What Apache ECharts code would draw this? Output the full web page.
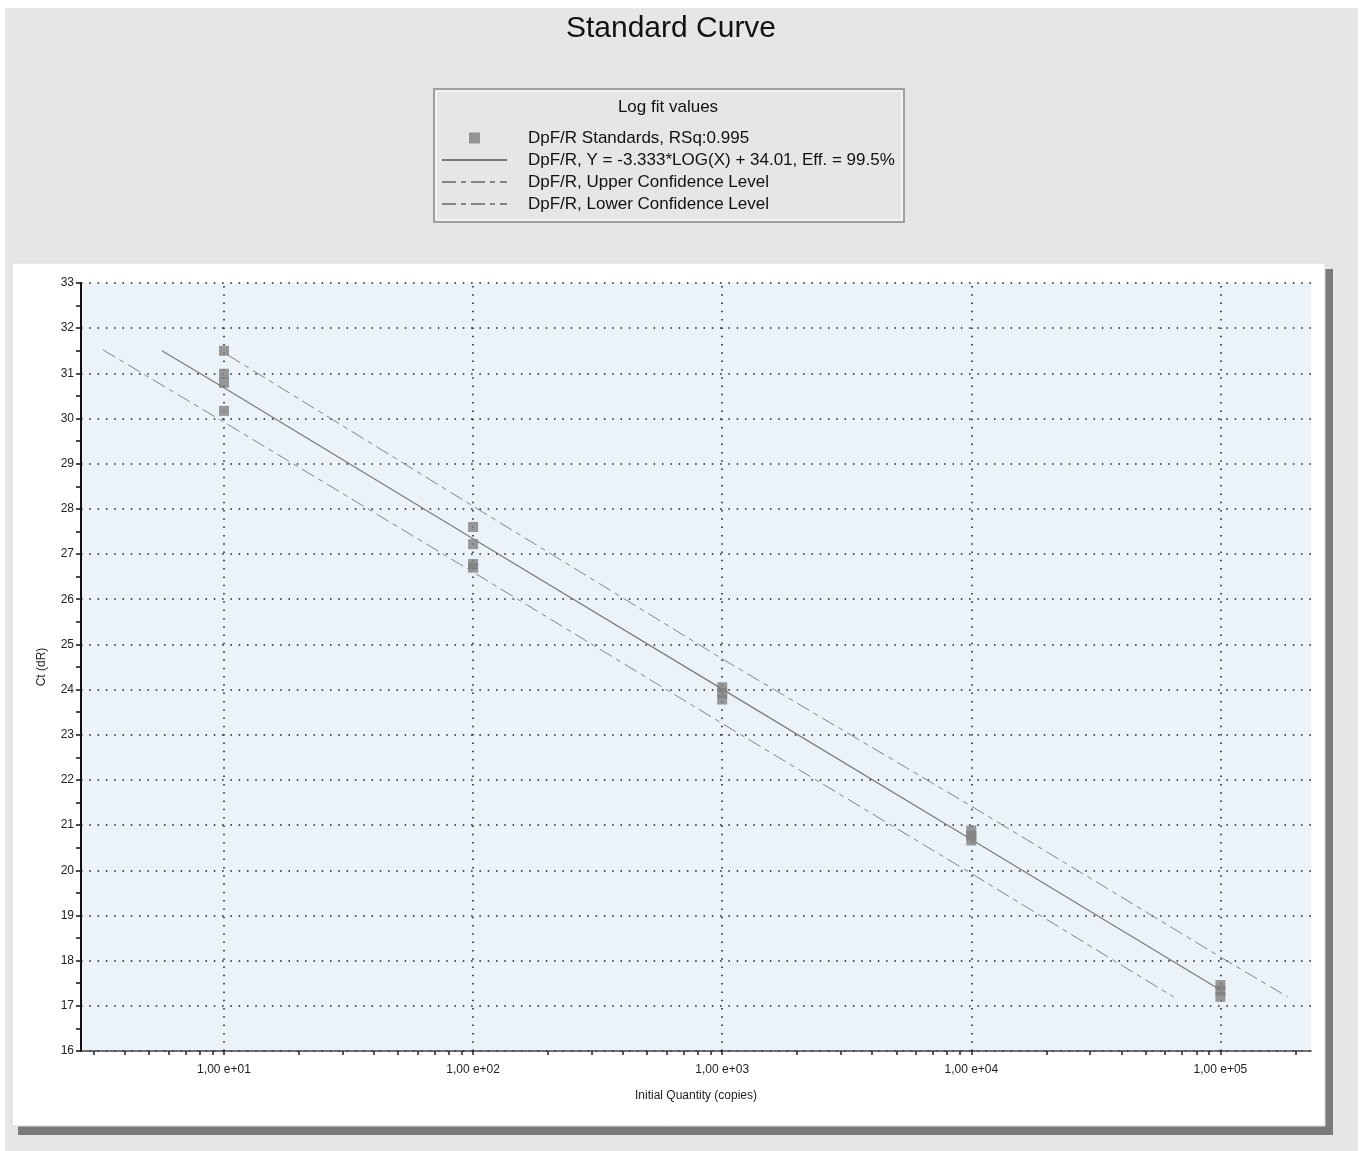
<!DOCTYPE html>
<html><head><meta charset="utf-8">
<script src="https://cdn.jsdelivr.net/npm/echarts@6/dist/echarts.min.js"></script>
<style>html,body{margin:0;padding:0;background:#fff}#c{width:1364px;height:1151px}</style>
</head><body><div id="c"></div>
<script>
// ---- data ----
const standardsX  = [10, 10, 10, 10, 100, 100, 100, 100, 1000, 1000, 1000, 10000, 10000, 10000, 100000, 100000, 100000];
const standardsCt = [31.50, 30.99, 30.79, 30.17, 27.60, 27.22, 26.78, 26.70, 24.05, 23.92, 23.78, 20.88, 20.77, 20.66, 17.46, 17.33, 17.20];
const fitX  = [5.64, 10, 100, 1000, 10000, 100000];
const fitCt = [31.50, 30.68, 27.34, 24.01, 20.68, 17.35];
const upperX  = [10.4, 100, 1000, 10000, 100000, 186000];
const upperCt = [31.40, 28.06, 24.68, 21.42, 18.08, 17.20];
const lowerX  = [3.27, 10, 100, 1000, 10000, 64700];
const lowerCt = [31.52, 29.92, 26.60, 23.25, 19.93, 17.20];
const majorTicks = [10, 100, 1000, 10000, 100000];
const minorTicks = [3, 4, 5, 6, 7, 8, 9, 10, 20, 30, 40, 50, 60, 70, 80, 90, 100,
  200, 300, 400, 500, 600, 700, 800, 900, 1000, 2000, 3000, 4000, 5000, 6000, 7000, 8000, 9000, 10000,
  20000, 30000, 40000, 50000, 60000, 70000, 80000, 90000, 100000, 200000];
const names = ['DpF/R Standards, RSq:0.995',
  'DpF/R, Y = -3.333*LOG(X) + 34.01, Eff. = 99.5%',
  'DpF/R, Upper Confidence Level',
  'DpF/R, Lower Confidence Level'];

const zip = (a, b) => a.map((v, i) => [v, b[i]]);
const FONT = '"Liberation Sans", Arial, sans-serif';
const dotted = {color: '#1a1a1a', width: 1.5, type: [1.5, 6.8]};
const dashDot = [14, 5, 5, 5];
const noSym = {color: 'rgba(0,0,0,0)', opacity: 0, borderWidth: 0};

const chart = echarts.init(document.getElementById('c'), null, {renderer: 'canvas'});
chart.setOption({
  animation: false,
  textStyle: {fontFamily: FONT},
  graphic: [
    {type: 'rect', z: -10, shape: {x: 5, y: 8, width: 1353, height: 1143}, style: {fill: '#e6e6e6'}},
    {type: 'rect', z: -9, shape: {x: 18, y: 1126, width: 1315, height: 9}, style: {fill: '#7a7a7a'}},
    {type: 'rect', z: -9, shape: {x: 1325, y: 269, width: 8, height: 866}, style: {fill: '#7a7a7a'}},
    {type: 'rect', z: -8, shape: {x: 12, y: 263, width: 1313, height: 863}, style: {fill: '#ffffff', stroke: '#d8d8d8', lineWidth: 1}},
    {type: 'rect', z: -8, shape: {x: 434, y: 89, width: 470, height: 133}, style: {fill: '#e6e6e6', stroke: '#a0a0a0', lineWidth: 2}},
    {type: 'rect', z: -7, shape: {x: 436, y: 91, width: 466, height: 129}, style: {fill: 'none', stroke: '#ffffff', lineWidth: 1}},
    {type: 'text', z: 5, style: {x: 668, y: 107, text: 'Log fit values', font: '17px ' + FONT, fill: '#111', textAlign: 'center', textVerticalAlign: 'middle'}},
    {type: 'text', z: 5, style: {x: 671, y: 29, text: 'Standard Curve', font: '30px ' + FONT, fill: '#111', textAlign: 'center', textVerticalAlign: 'middle'}}
  ],
  legend: {
    orient: 'vertical', left: 441, top: 129, padding: 0,
    itemWidth: 65, itemHeight: 11, itemGap: 4,
    data: [
      {name: names[0], icon: 'path://M0,0L10,0L10,10L0,10Z'},
      {name: names[1], itemStyle: noSym},
      {name: names[2], itemStyle: noSym},
      {name: names[3], itemStyle: noSym}
    ],
    textStyle: {fontSize: 17, color: '#111', lineHeight: 18, padding: [0, 0, 0, 16], fontFamily: FONT},
    selectedMode: false
  },
  grid: {
    left: 81, right: 53, top: 283, bottom: 100,
    show: true, backgroundColor: '#ebf2f8', borderWidth: 0
  },
  xAxis: {
    type: 'log', logBase: 10, min: 2.667, max: 231000,
    name: 'Initial Quantity (copies)', nameLocation: 'middle', nameGap: 39,
    nameTextStyle: {fontSize: 12, color: '#222', fontFamily: FONT},
    axisLine: {show: true, lineStyle: {color: '#444', width: 1.5}},
    axisTick: {show: true, customValues: minorTicks, length: 4, inside: false, lineStyle: {color: '#222', width: 1.5}},
    axisLabel: {
      customValues: majorTicks, margin: 13, fontSize: 12, color: '#222', fontFamily: FONT,
      formatter: v => '1,00 e+0' + Math.round(Math.log10(v))
    },
    splitLine: {show: false},
    minorTick: {show: false}, minorSplitLine: {show: false}
  },
  yAxis: {
    type: 'value', min: 16, max: 33, interval: 1,
    name: 'Ct (dR)', nameLocation: 'middle', nameGap: 33,
    nameTextStyle: {fontSize: 12, color: '#222', fontFamily: FONT},
    axisLine: {show: true, lineStyle: {color: '#111', width: 2}},
    axisTick: {show: true, length: 5, lineStyle: {color: '#111', width: 1.5}},
    minorTick: {show: true, splitNumber: 2, length: 5, lineStyle: {color: '#111', width: 1.5}},
    axisLabel: {margin: 7, fontSize: 12, color: '#222', fontFamily: FONT},
    splitLine: {show: true, lineStyle: dotted}
  },
  series: [
    {
      name: names[0], type: 'scatter', data: zip(standardsX, standardsCt),
      symbol: 'rect', symbolSize: 10, itemStyle: {color: '#808080'}, z: 5
    },
    {
      name: names[1], type: 'line', data: zip(fitX, fitCt), showSymbol: false, symbol: 'none',
      lineStyle: {color: '#7a7a7a', width: 1.2}, itemStyle: {color: '#7a7a7a'},
      markLine: {
        silent: true, symbol: 'none', label: {show: false},
        lineStyle: dotted,
        data: majorTicks.map(v => ({xAxis: v}))
      }
    },
    {
      name: names[2], type: 'line', data: zip(upperX, upperCt), showSymbol: false, symbol: 'none',
      lineStyle: {color: '#858585', width: 1, type: dashDot}, itemStyle: {color: '#858585'}
    },
    {
      name: names[3], type: 'line', data: zip(lowerX, lowerCt), showSymbol: false, symbol: 'none',
      lineStyle: {color: '#858585', width: 1, type: dashDot}, itemStyle: {color: '#858585'}
    }
  ]
});
</script></body></html>
